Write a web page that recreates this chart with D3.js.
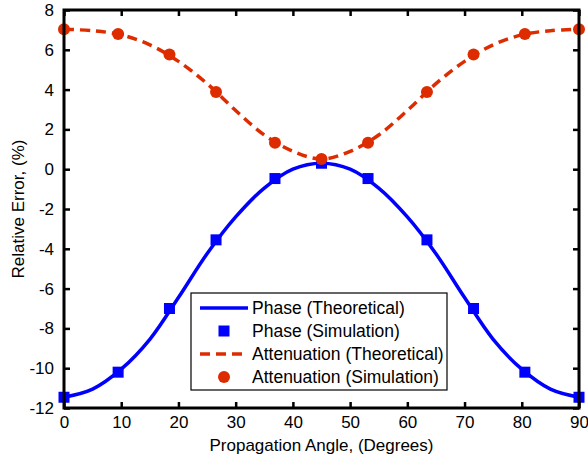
<!DOCTYPE html>
<html><head><meta charset="utf-8">
<script src="https://cdn.jsdelivr.net/npm/d3@7"></script>
<style>
body{margin:0;background:#fff;}
text{font-family:Arial,"Liberation Sans",sans-serif;fill:#000;}
</style></head>
<body><svg id="c" width="588" height="456"></svg>
<script>
// Data
const simAngles = [0, 9.46, 18.43, 26.57, 36.87, 45, 53.13, 63.43, 71.57, 80.54, 90];
const phaseSim = [-11.46, -10.2, -7.0, -3.55, -0.47, 0.3, -0.47, -3.55, -7.0, -10.2, -11.46];
const attenSim = [7.03, 6.79, 5.76, 3.88, 1.33, 0.51, 1.33, 3.88, 5.76, 6.79, 7.03];
const theoAngles = [0, 5, 10, 15, 20, 25, 30, 35, 40, 45, 50, 55, 60, 65, 70, 75, 80, 85, 90];
const phaseTheo = [-11.46, -11.05, -10.05, -8.55, -6.45, -4.25, -2.4, -0.95, 0.0, 0.3, 0.0, -0.95, -2.4, -4.25, -6.45, -8.55, -10.05, -11.05, -11.46];
const attenTheo = [7.03, 6.96, 6.75, 6.25, 5.42, 4.3, 2.95, 1.72, 0.9, 0.51, 0.9, 1.72, 2.95, 4.3, 5.42, 6.25, 6.75, 6.96, 7.03];
const xTicks = [0, 10, 20, 30, 40, 50, 60, 70, 80, 90];
const yTicks = [-12, -10, -8, -6, -4, -2, 0, 2, 4, 6, 8];
const legendLabels = ["Phase (Theoretical)", "Phase (Simulation)", "Attenuation (Theoretical)", "Attenuation (Simulation)"];

const blue = "#0000ff", red = "#dd2c00";
const svg = d3.select("#c");
const L = 64, R = 579, T = 10, B = 408;
const x = d3.scaleLinear().domain([0, 90]).range([L, R]);
const y = d3.scaleLinear().domain([-12, 8]).range([B, T]);

const g = svg.append("g");

// curves
const line = d3.line().x(d => x(d[0])).y(d => y(d[1])).curve(d3.curveCatmullRom);
g.append("path").datum(theoAngles.map((a, i) => [a, phaseTheo[i]]))
  .attr("d", line).attr("fill", "none").attr("stroke", blue).attr("stroke-width", 3.5);
g.append("path").datum(theoAngles.map((a, i) => [a, attenTheo[i]]))
  .attr("d", line).attr("fill", "none").attr("stroke", red).attr("stroke-width", 3.5)
  .attr("stroke-dasharray", "10,6");

// markers
g.selectAll("rect.ps").data(simAngles.map((a, i) => [a, phaseSim[i]])).join("rect")
  .attr("x", d => x(d[0]) - 5.5).attr("y", d => y(d[1]) - 5.5)
  .attr("width", 11).attr("height", 11).attr("fill", blue);
g.selectAll("circle.as").data(simAngles.map((a, i) => [a, attenSim[i]])).join("circle")
  .attr("cx", d => x(d[0])).attr("cy", d => y(d[1])).attr("r", 6).attr("fill", red);

// axes
const fs = "17px";
const fmt = d => String(d);
const axB = d3.axisBottom(x).tickValues(xTicks).tickSize(-6).tickPadding(8).tickFormat(fmt);
const axT = d3.axisTop(x).tickValues(xTicks).tickSize(-6).tickFormat("");
const axL = d3.axisLeft(y).tickValues(yTicks).tickSize(-6).tickPadding(10).tickFormat(fmt);
const axR = d3.axisRight(y).tickValues(yTicks).tickSize(-6).tickFormat("");
function style(sel){
  sel.select(".domain").remove();
  sel.selectAll(".tick line").attr("stroke", "#000").attr("stroke-width", 2.5);
  sel.selectAll(".tick text").style("font-size", fs).attr("font-family", "Arial, 'Liberation Sans', sans-serif");
}
svg.append("g").attr("transform", `translate(0,${B})`).call(axB).call(style);
svg.append("g").attr("transform", `translate(0,${T})`).call(axT).call(style);
svg.append("g").attr("transform", `translate(${L},0)`).call(axL).call(style);
svg.append("g").attr("transform", `translate(${R},0)`).call(axR).call(style);
svg.append("rect").attr("x", L).attr("y", T).attr("width", R - L).attr("height", B - T)
  .attr("fill", "none").attr("stroke", "#000").attr("stroke-width", 3);

// axis titles
svg.append("text").attr("x", (L + R) / 2).attr("y", 451).attr("text-anchor", "middle")
  .style("font-size", fs).text("Propagation Angle, (Degrees)");
svg.append("text").attr("transform", `translate(24,${(T + B) / 2}) rotate(-90)`)
  .attr("text-anchor", "middle").style("font-size", fs).text("Relative Error, (%)");

// legend
const lg = svg.append("g");
lg.append("rect").attr("x", 191).attr("y", 293).attr("width", 256).attr("height", 97)
  .attr("fill", "#fff").attr("stroke", "#000").attr("stroke-width", 1.2);
const rowY = [308, 331, 354, 377];
legendLabels.forEach((t, i) => {
  const yy = rowY[i];
  if (i === 0) lg.append("line").attr("x1", 200).attr("x2", 248).attr("y1", yy).attr("y2", yy)
    .attr("stroke", blue).attr("stroke-width", 3.5);
  if (i === 1) lg.append("rect").attr("x", 224 - 5.5).attr("y", yy - 5.5).attr("width", 11).attr("height", 11).attr("fill", blue);
  if (i === 2) lg.append("line").attr("x1", 200).attr("x2", 248).attr("y1", yy).attr("y2", yy)
    .attr("stroke", red).attr("stroke-width", 3.5).attr("stroke-dasharray", "10,6");
  if (i === 3) lg.append("circle").attr("cx", 224).attr("cy", yy).attr("r", 6).attr("fill", red);
  lg.append("text").attr("x", 252).attr("y", yy).attr("dy", "0.35em").style("font-size", "17.5px").text(t);
});
</script></body></html>
